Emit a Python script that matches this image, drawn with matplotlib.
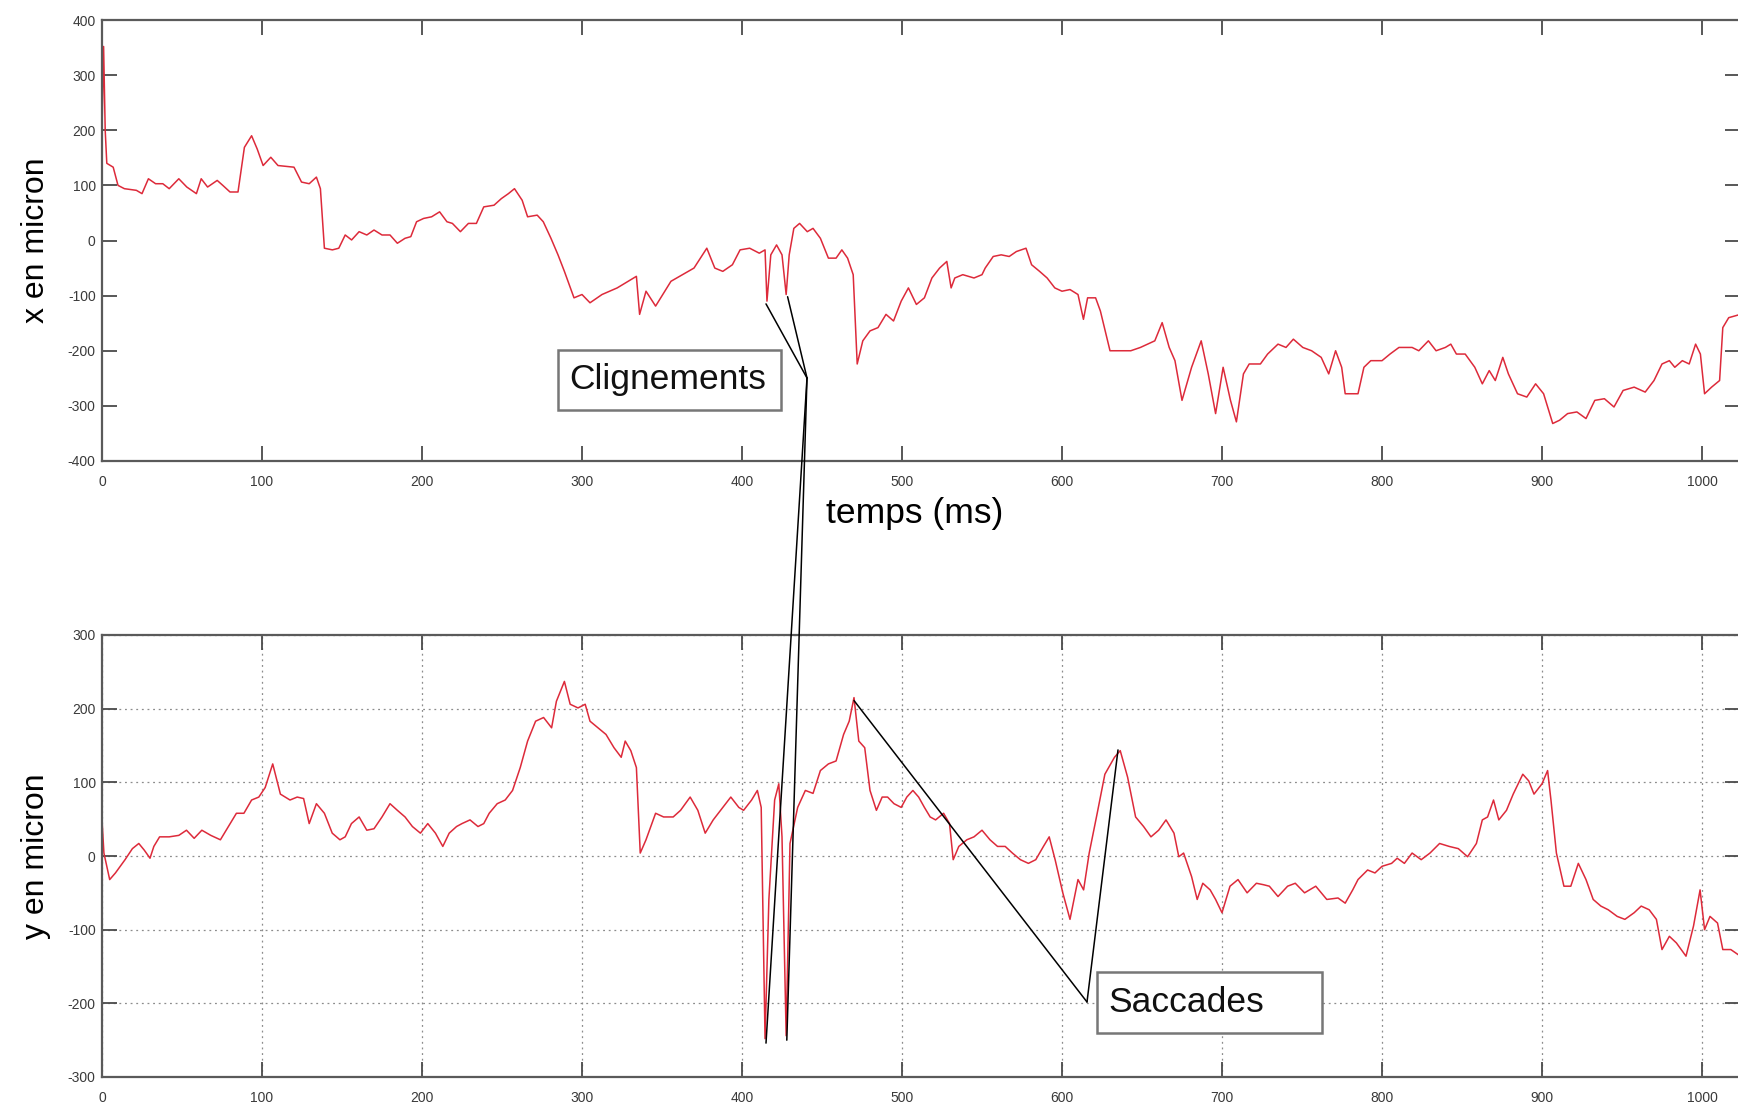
import matplotlib
matplotlib.use("Agg")
import matplotlib.pyplot as plt
from matplotlib.patches import Rectangle

plt.rcParams['font.family'] = ['Liberation Sans', 'DejaVu Sans']
plt.rcParams['axes.unicode_minus'] = False

# horizontal eye position (top panel)
t_x = [0, 1, 2, 3, 7, 10, 14, 21.5, 25, 29, 33.5, 38, 42, 48, 53, 59, 62, 66, 72, 75.5,
       80, 85, 89, 93.5, 97, 100.7, 105.5, 110, 120, 124.7, 129.5, 134, 136.5, 139, 144, 148,
       152, 156, 160.7, 165.5, 170, 175, 180, 184.6, 189.4, 193, 196.6, 201, 206, 211,
       215.6, 219, 224, 229, 234, 238.6, 245, 249.6, 254, 257.8, 262.6, 266, 272, 275.8,
       280.6, 285, 289, 295, 300, 305, 312.5, 322, 334, 336, 340, 346, 355.6, 362.8, 370,
       378, 383, 388, 394, 398.8, 404.8, 410.8, 414.4, 415.6, 418, 421.6, 425, 427.6, 429.5,
       432.4, 436, 440.8, 444.4, 449, 454, 458.8, 462.4, 466, 469.5, 472, 475.5, 480, 485,
       490, 494.7, 499.5, 504, 509, 514, 518.7, 523.5, 528, 530.7, 533, 538, 545, 550, 552,
       557, 562, 567, 571.5, 577.5, 581, 586, 590.7, 595.5, 600, 605, 610, 613.4, 616, 621,
       624, 630, 636, 643, 649, 658, 662.6, 667, 670.6, 675, 681, 687, 691.4, 696, 700.7,
       705.3, 709, 713.4, 717, 724, 728.5, 735, 740, 744.6, 750.5, 756, 762, 766.7, 771,
       774.8, 777, 785, 788.7, 793, 800, 805, 810.6, 818.8, 823, 829, 833.8, 839.6, 843,
       846.5, 852, 858, 862.7, 867, 870.8, 875.5, 879, 884.7, 890.5, 896, 901, 906.7, 911,
       916, 921.8, 927.5, 933, 939, 945, 950.7, 957.6, 964.5, 970, 975, 979.6, 983, 987.7,
       992, 996, 999, 1001.6, 1006, 1011, 1013, 1016.7, 1024]
x_um = [200, 352, 200, 140, 133, 100, 94, 91, 85, 112, 103, 103, 94, 112, 97, 85, 112, 97, 109, 100,
        88, 88, 169, 190, 166, 136, 151, 136, 133, 106, 103, 115, 94, -14, -17, -14,
        10, 1, 16, 10, 19, 10, 10, -5, 4, 7, 34, 40, 43, 52,
        34, 31, 16, 31, 31, 61, 64, 76, 85, 94, 73, 43, 46, 34,
        4, -26, -56, -104, -98, -113, -98, -86, -65, -134, -92, -119, -74, -62, -50,
        -14, -50, -56, -44, -17, -14, -23, -17, -110, -26, -8, -26, -98, -26,
        22, 31, 16, 22, 4, -32, -32, -17, -32, -62, -224, -182, -164, -158,
        -134, -146, -110, -86, -116, -104, -68, -50, -38, -86, -68, -62, -68, -62, -50,
        -29, -26, -29, -20, -14, -44, -56, -68, -86, -92, -89, -98, -143, -104, -104,
        -128, -200, -200, -200, -194, -182, -149, -194, -218, -290, -230, -182, -242, -314, -230,
        -290, -329, -242, -224, -224, -206, -188, -194, -179, -194, -200, -212, -242, -200,
        -230, -278, -278, -230, -218, -218, -206, -194, -194, -200, -182, -200, -194, -188,
        -206, -206, -230, -260, -236, -254, -212, -242, -278, -284, -260, -278, -332, -326,
        -314, -311, -323, -290, -287, -302, -272, -266, -275, -254, -224, -218, -230, -218,
        -224, -188, -206, -278, -266, -254, -158, -140, -134]

# vertical eye position (bottom panel)
t_y = [0, 1.2, 4.8, 8.4, 14.4, 19, 23, 26.4, 30, 32.4, 36, 42, 48, 52.8, 57.6, 62.4, 68, 74, 79, 84,
       88.7, 93.5, 98, 102, 106.7, 111.5, 117.5, 122, 126, 129.5, 134, 139, 143.9, 148.7, 152,
       155.9, 160.7, 165.5, 170, 175, 180, 184.6, 189.4, 194, 199, 203.6, 208.4, 213, 217,
       221.6, 225, 230, 235, 238.6, 242, 247, 252, 256.6, 261.4, 266, 271, 276, 281, 284, 289,
       292.6, 297.5, 302, 305, 310, 315, 320, 324.5, 327, 330.5, 334, 336.4, 340, 346, 351,
       357, 361.6, 367.6, 372.4, 377, 382, 388, 393, 398, 401, 406, 409.6, 412, 414.4, 416.8,
       420.4, 423, 425, 427.6, 430, 434.8, 439.6, 444.4, 449, 454, 458.8, 463.5, 467, 470, 473,
       476.7, 480, 484, 487.6, 491, 495, 499.5, 503, 506.8, 510.4, 514, 517.6, 521, 526, 529.7,
       532, 535.5, 540.5, 545, 550, 555, 559.7, 564.5, 569, 574, 579, 583.6, 588.4, 592, 595.7,
       600.5, 605, 607.5, 610, 613.5, 617, 622, 626.8, 632.8, 636.4, 641, 646, 651, 655.6,
       660.4, 665, 670, 673, 676, 681, 684.5, 688, 692.6, 696, 700, 705, 710, 715.7, 721.5,
       726, 729.6, 735, 741, 745.8, 751.6, 758.6, 765.5, 772.5, 777, 781.7, 785, 791, 795.6,
       800, 806, 809.5, 814, 818.8, 824.5, 830, 836, 842, 847.7, 853.5, 859, 862.7, 866, 869.7,
       873, 877.8, 882, 888, 891.7, 895, 900, 903.5, 905.6, 909, 913.7, 918, 922.7, 927.5, 932,
       936.8, 941.4, 947, 951.8, 957.6, 962, 967, 971.5, 975, 979.6, 984, 990, 994.7, 998.8,
       1001.6, 1005, 1009.7, 1013, 1018, 1024]
y_um = [49, 4, -32, -23, -5, 10, 17, 8, -3, 13, 26, 26, 28, 35, 24, 35, 28, 22, 40, 58,
        58, 76, 80, 93, 125, 84, 76, 80, 78, 44, 71, 58, 31, 22, 26,
        44, 53, 35, 37, 53, 71, 62, 53, 40, 31, 44, 31, 13, 31,
        40, 44, 49, 40, 44, 58, 71, 76, 89, 120, 156, 183, 188, 174, 210, 237,
        206, 201, 206, 183, 174, 165, 147, 134, 156, 143, 120, 4, 22, 58, 53,
        53, 62, 80, 62, 31, 49, 66, 80, 66, 62, 76, 89, 66, -248, -59,
        76, 98, 26, -244, 17, 66, 89, 85, 116, 125, 129, 165, 183, 215, 156,
        147, 89, 62, 80, 80, 71, 66, 80, 89, 80, 66, 53, 49, 58, 44,
        -5, 13, 22, 26, 35, 22, 13, 13, 4, -5, -10, -5, 13, 26, -5,
        -50, -86, -59, -32, -46, 4, 58, 111, 134, 143, 107, 53, 40, 26,
        35, 49, 31, -1, 4, -28, -59, -37, -46, -59, -77, -41, -32, -50, -37,
        -39, -41, -55, -41, -37, -50, -41, -59, -57, -64, -46, -32, -19, -23,
        -14, -10, -3, -10, 4, -5, 4, 17, 13, 10, -1, 17, 49, 53, 76,
        49, 62, 84, 111, 102, 84, 98, 116, 76, 4, -41, -41, -10, -32, -59,
        -68, -73, -82, -86, -77, -68, -73, -86, -127, -109, -118, -136, -95, -46,
        -100, -82, -91, -127, -127, -136]

x_ticks = list(range(0, 1001, 100))
x_yticks = list(range(-400, 401, 100))
y_yticks = list(range(-300, 301, 100))

W, H = 1738, 1106
fig = plt.figure(figsize=(W / 100, H / 100), dpi=100)
fig.patch.set_facecolor('white')

ax1 = fig.add_axes([102 / W, 1 - 461 / H, 1638.4 / W, 441 / H])
ax2 = fig.add_axes([102 / W, 1 - 1077 / H, 1638.4 / W, 442 / H])

red = '#dd2a3a'
ax1.plot(t_x, x_um, color=red, lw=1.1)
ax2.plot(t_y, y_um, color=red, lw=1.1)

ax1.set_ylim(-400, 400)
ax1.set_yticks(x_yticks)
ax2.set_ylim(-300, 300)
ax2.set_yticks(y_yticks)

for ax in (ax1, ax2):
    ax.set_xlim(0, 1024)
    ax.set_xticks(x_ticks)
    ax.tick_params(direction='in', length=11, width=1.3, color='#4a4a4a',
                   labelcolor='#3a3a3a', labelsize=10, top=True, right=True)
    ax.tick_params(axis='x', pad=10)
    ax.tick_params(axis='y', pad=4.5)
    for s in ax.spines.values():
        s.set_color('#5a5a5a')
        s.set_linewidth(1.6)

ax2.grid(True, linestyle=(0, (1.5, 3)), color='#8c8c8c', linewidth=0.9)

ax1.set_ylabel('x en micron', fontsize=23)
ax2.set_ylabel('y en micron', fontsize=23)
ax1.yaxis.set_label_coords(-0.031, 0.5)
ax2.yaxis.set_label_coords(-0.031, 0.5)
ax1.set_xlabel('temps (ms)', fontsize=25.5)
ax1.xaxis.set_label_coords(0.496, -0.081)

# annotation lines
line_kw = dict(arrowstyle='-', color='black', lw=1.1, shrinkA=0, shrinkB=0)
p_clig = (807, H - 378)
for ax, pt in [(ax1, (415, -115)), (ax1, (428.5, -102)),
               (ax2, (415, -254)), (ax2, (428, -250))]:
    ax.annotate('', xy=pt, xycoords='data', xytext=p_clig,
                textcoords='figure pixels', arrowprops=line_kw,
                annotation_clip=False)

p_sac = (1087, H - 1002)
for pt in [(470, 211), (635, 144)]:
    ax2.annotate('', xy=pt, xycoords='data', xytext=p_sac,
                 textcoords='figure pixels', arrowprops=line_kw,
                 annotation_clip=False)

# text boxes
fig.add_artist(Rectangle((557.5 / W, 1 - 410 / H), 223.5 / W, 60 / H,
                         transform=fig.transFigure, facecolor='white',
                         edgecolor='#777777', lw=1.8, zorder=2))
fig.text(668 / W, 1 - 379 / H, 'Clignements', ha='center', va='center',
         fontsize=25.5, color='#111111', zorder=3)

fig.add_artist(Rectangle((1097 / W, 1 - 1033 / H), 225 / W, 61 / H,
                         transform=fig.transFigure, facecolor='white',
                         edgecolor='#777777', lw=1.8, zorder=2))
fig.text(1108 / W, 1 - 1002 / H, 'Saccades', ha='left', va='center',
         fontsize=25.5, color='#111111', zorder=3)

fig.savefig('out.png', dpi=100)
